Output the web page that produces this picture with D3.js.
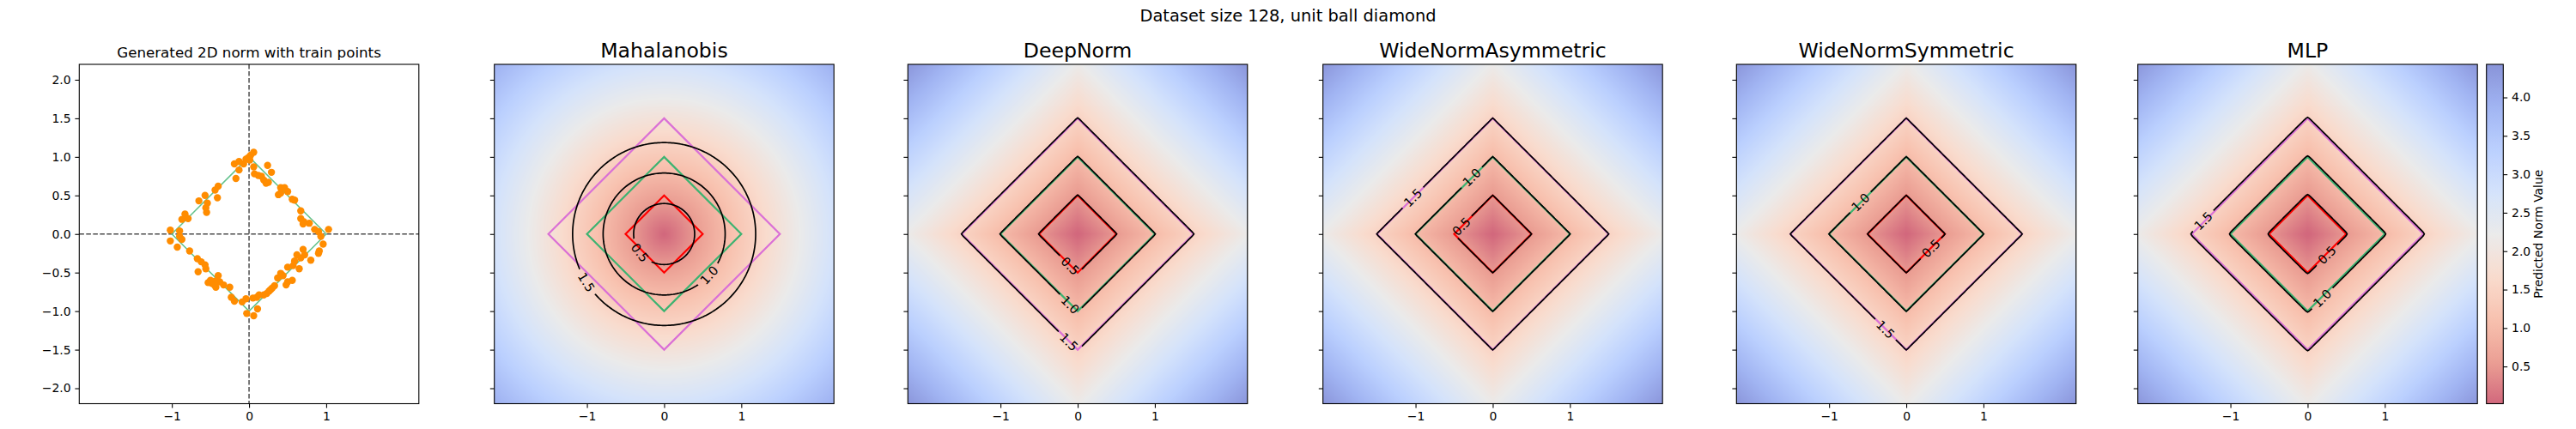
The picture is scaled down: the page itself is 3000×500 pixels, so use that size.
<!DOCTYPE html>
<html>
<head>
<meta charset="utf-8">
<script src="https://cdn.jsdelivr.net/npm/d3@7"></script>
<style>
  body { margin: 0; background: #fff; }
  svg { display: block; font-family: "DejaVu Sans", sans-serif; }
</style>
</head>
<body>
<div id="chart"></div>
<script>
// ── Data ─────────────────────────────────────────────────────────
const SUPTITLE = "Dataset size 128, unit ball diamond";
const TRAIN_TITLE = "Generated 2D norm with train points";
const MODELS = ["Mahalanobis", "DeepNorm", "WideNormAsymmetric", "WideNormSymmetric", "MLP"];
const CBAR_LABEL = "Predicted Norm Value";

const LEVELS = [0.5, 1.0, 1.5];
const LEVEL_COLORS = ["#ff0000", "#3cb371", "#da70d6"];
const UNIT_DIAMOND = [[1, 0], [0, 1], [-1, 0], [0, -1]];

const X_TICKS = [-1, 0, 1];
const Y_TICKS = [-2, -1.5, -1, -0.5, 0, 0.5, 1, 1.5, 2];
const CBAR_TICKS = [0.5, 1.0, 1.5, 2.0, 2.5, 3.0, 3.5, 4.0];
const CBAR_RANGE = [0.016, 4.43];

// train points
const TRAIN_X = [0.06, 0.02, -0.01, -0.04, 0.01, -0.07, -0.13, -0.19, -0.13, -0.17,
  0.06, 0.07, 0.12, 0.16, 0.19, 0.22, 0.25, 0.24, 0.29, 0.41, 0.46, 0.50, 0.41, 0.38, 0.56, 0.59, 0.67, 0.67, 0.71, 0.78, 0.70, 0.85, 0.90, 0.93, 1.03,
  0.96, 0.91, 0.90, 0.70, 0.62, 0.67, 0.72, 0.80, 0.59, 0.65, 0.57, 0.50, 0.41, 0.44, 0.37, 0.50, 0.56, 0.48, 0.33, 0.30, 0.26, 0.23, 0.19, 0.13, 0.10, 0.05, -0.04, -0.09, 0.11, 0.06, -0.03, 0.28,
  -0.19, -0.23, -0.25, -0.33, -0.38, -0.40, -0.44, -0.48, -0.43, -0.53, -0.56, -0.57, -0.62, -0.67, -0.66, -0.77, -0.87, -0.93, -0.50, -0.45,
  -1.02, -0.90, -1.02, -0.90,
  -0.83, -0.87, -0.79, -0.56, -0.55, -0.54, -0.57, -0.65, -0.41, -0.44, -0.40];
const TRAIN_Y = [1.06, 1.02, 0.99, 0.97, 0.96, 0.91, 0.94, 0.91, 0.83, 0.72,
  0.87, 0.78, 0.76, 0.75, 0.70, 0.66, 0.67, 0.89, 0.80, 0.60, 0.60, 0.55, 0.53, 0.51, 0.45, 0.44, 0.30, 0.20, 0.16, 0.14, 0.13, 0.06, 0.03, -0.03, 0.06,
  -0.13, -0.22, -0.25, -0.20, -0.27, -0.31, -0.27, -0.34, -0.35, -0.45, -0.41, -0.43, -0.51, -0.54, -0.57, -0.62, -0.60, -0.66, -0.67, -0.70, -0.74, -0.77, -0.79, -0.79, -0.82, -0.83, -0.84, -0.88, -0.97, -1.06, -1.03, -0.72,
  -0.87, -0.82, -0.69, -0.66, -0.62, -0.54, -0.61, -0.64, -0.69, -0.63, -0.45, -0.40, -0.36, -0.32, -0.49, -0.22, -0.07, -0.17, -0.60, -0.66,
  0.05, 0.04, -0.09, -0.03,
  0.26, 0.19, 0.20, 0.34, 0.28, 0.40, 0.50, 0.43, 0.47, 0.57, 0.62];

// predicted norm per model: Mahalanobis is a scaled euclidean norm,
// the learned ones are (slightly corner-rounded) L1 norms
const MAHAL_SCALE = 1.265;
const CORNER_ROUND = [0, 0.006, 0.003, 0.003, 0.012];

// contour label anchor points (data coords), one per level
const LABEL_POS = [
  [[-0.30, -0.23], [0.60, -0.55], [-1.00, -0.62]],
  [[-0.09, -0.38], [-0.09, -0.86], [-0.11, -1.36]],
  [[-0.41, 0.10], [-0.27, 0.73], [-1.03, 0.47]],
  [[0.31, -0.18], [-0.59, 0.41], [-0.26, -1.20]],
  [[0.23, -0.25], [0.18, -0.79], [-1.35, 0.17]]
];

// ── Layout ───────────────────────────────────────────────────────
const W = 3000, H = 500;
const AX_LEFT = [92.3, 575.7, 1057.3, 1540.7, 2022.3, 2489.7];
const AX_TOP = 75, AX_SIZE = 395.5, LIM = 2.2;
const CBAR = { x: 2895.7, w: 19.6 };
const TICK_FS = 13.9;
const ALPHA = 0.6;

const COOLWARM = ["#3b4cc0", "#6282ea", "#8db0fe", "#b8d0f9", "#dddddd", "#f5c4ad", "#f49a7b", "#de604d", "#b40426"];
const coolwarm = d3.piecewise(d3.interpolateRgb, COOLWARM);
const tScale = d3.scaleLinear().domain(CBAR_RANGE).range([1, 0]).clamp(true); // coolwarm_r

function normColor(v) {
    const c = d3.rgb(coolwarm(tScale(v)));
    return d3.rgb(c.r * ALPHA + 255 * (1 - ALPHA), c.g * ALPHA + 255 * (1 - ALPHA), c.b * ALPHA + 255 * (1 - ALPHA));
}

function predicted(m, x, y) {
    if (m === 0) return MAHAL_SCALE * Math.hypot(x, y);
    const s = CORNER_ROUND[m];
    return (Math.hypot(x, s) - s) + (Math.hypot(y, s) - s);
}

const svg = d3.select("#chart").append("svg")
    .attr("width", W).attr("height", H);
const defs = svg.append("defs");

const x = d3.scaleLinear().domain([-LIM, LIM]).range([0, AX_SIZE]);
const y = d3.scaleLinear().domain([-LIM, LIM]).range([AX_SIZE, 0]);

svg.append("text")
    .attr("x", 1500).attr("y", 25)
    .attr("text-anchor", "middle")
    .style("font-size", "19.4px")
    .text(SUPTITLE);

function drawAxes(g, k) {
    const xa = g.append("g")
        .attr("transform", `translate(0,${AX_SIZE})`)
        .call(d3.axisBottom(x).tickValues(X_TICKS).tickSize(4.9).tickPadding(4.9).tickFormat(d3.format("d")));
    const ya = g.append("g")
        .call(d3.axisLeft(y).tickValues(Y_TICKS).tickSize(4.9).tickPadding(4.9)
            .tickFormat(k === 0 ? d3.format(".1f") : () => ""));
    [xa, ya].forEach(a => {
        a.attr("font-family", null).attr("font-size", null).style("font-size", TICK_FS + "px");
        a.select(".domain").remove();
        a.selectAll("line").attr("stroke", "#000").attr("stroke-width", 1.1);
        a.selectAll("text").attr("fill", "#000");
    });
    g.append("rect")
        .attr("width", AX_SIZE).attr("height", AX_SIZE)
        .attr("fill", "none").attr("stroke", "#000").attr("stroke-width", 1.1);
}

// ── Panel 0: training points ─────────────────────────────────────
{
    const g = svg.append("g").attr("transform", `translate(${AX_LEFT[0]},${AX_TOP})`);
    g.append("text")
        .attr("x", AX_SIZE / 2).attr("y", -8.3)
        .attr("text-anchor", "middle")
        .style("font-size", "16.7px")
        .text(TRAIN_TITLE);

    const dash = "5.6,2.4";
    g.append("line").attr("x1", x(0)).attr("x2", x(0)).attr("y1", 0).attr("y2", AX_SIZE)
        .attr("stroke", "#4d4d4d").attr("stroke-width", 1.5).attr("stroke-dasharray", dash);
    g.append("line").attr("x1", 0).attr("x2", AX_SIZE).attr("y1", y(0)).attr("y2", y(0))
        .attr("stroke", "#4d4d4d").attr("stroke-width", 1.5).attr("stroke-dasharray", dash);

    g.append("path")
        .attr("d", d3.line().x(d => x(d[0])).y(d => y(d[1])).curve(d3.curveLinearClosed)(UNIT_DIAMOND))
        .attr("fill", "none").attr("stroke", "#63c28d").attr("stroke-width", 1.5);

    g.append("g").selectAll("circle")
        .data(TRAIN_X.map((v, i) => [v, TRAIN_Y[i]]))
        .join("circle")
        .attr("cx", d => x(d[0])).attr("cy", d => y(d[1]))
        .attr("r", 4.2).attr("fill", "#ff8c00");

    drawAxes(g, 0);
}

// ── Model panels ─────────────────────────────────────────────────
const N = 221;
const step = 2 * LIM / (N - 1);

MODELS.forEach(function (name, m) {
    const k = m + 1;
    const g = svg.append("g").attr("transform", `translate(${AX_LEFT[k]},${AX_TOP})`);

    defs.append("clipPath").attr("id", "clip" + k)
        .append("rect").attr("width", AX_SIZE).attr("height", AX_SIZE);

    // background field rendered pixel by pixel
    const px = Math.round(AX_SIZE);
    const canvas = document.createElement("canvas");
    canvas.width = px; canvas.height = px;
    const ctx = canvas.getContext("2d");
    const img = ctx.createImageData(px, px);
    for (let j = 0; j < px; j++) {
        for (let i = 0; i < px; i++) {
            const v = predicted(m, x.invert((i + 0.5) * AX_SIZE / px), y.invert((j + 0.5) * AX_SIZE / px));
            const c = normColor(v);
            const o = 4 * (j * px + i);
            img.data[o] = c.r; img.data[o + 1] = c.g; img.data[o + 2] = c.b; img.data[o + 3] = 255;
        }
    }
    ctx.putImageData(img, 0, 0);

    const body = g.append("g").attr("clip-path", `url(#clip${k})`);
    body.append("image")
        .attr("href", canvas.toDataURL())
        .attr("width", AX_SIZE).attr("height", AX_SIZE)
        .attr("preserveAspectRatio", "none");

    // true unit-ball diamonds
    LEVELS.forEach(function (lev, li) {
        body.append("path")
            .attr("d", d3.line().x(d => x(d[0] * lev)).y(d => y(d[1] * lev)).curve(d3.curveLinearClosed)(UNIT_DIAMOND))
            .attr("fill", "none").attr("stroke", LEVEL_COLORS[li]).attr("stroke-width", 2.2);
    });

    // label placement: snap to the level set, rotate along it
    const labels = LEVELS.map(function (lev, li) {
        let [lx, ly] = LABEL_POS[m][li];
        for (let it = 0; it < 5; it++) {
            const f = predicted(m, lx, ly);
            lx *= lev / f; ly *= lev / f;
        }
        const h = 1e-4;
        const gx = predicted(m, lx + h, ly) - predicted(m, lx - h, ly);
        const gy = predicted(m, lx, ly + h) - predicted(m, lx, ly - h);
        let a = Math.atan2(-gx, -gy) * 180 / Math.PI;
        if (a > 90) a -= 180;
        if (a < -90) a += 180;
        return { lev: lev, x: x(lx), y: y(ly), a: a };
    });

    const mask = defs.append("mask").attr("id", "mask" + k)
        .attr("maskUnits", "userSpaceOnUse")
        .attr("x", 0).attr("y", 0).attr("width", AX_SIZE).attr("height", AX_SIZE);
    mask.append("rect").attr("width", AX_SIZE).attr("height", AX_SIZE).attr("fill", "#fff");
    mask.selectAll("rect.gap").data(labels).join("rect")
        .attr("class", "gap")
        .attr("x", -17).attr("y", -7).attr("width", 34).attr("height", 14)
        .attr("transform", d => `translate(${d.x},${d.y}) rotate(${d.a})`)
        .attr("fill", "#000");

    // predicted-norm contours
    const grid = new Array(N * N);
    for (let j = 0; j < N; j++)
        for (let i = 0; i < N; i++)
            grid[j * N + i] = predicted(m, -LIM + i * step, LIM - j * step);
    const contours = d3.contours().size([N, N]).thresholds(LEVELS)(grid);
    const path = d3.geoPath(d3.geoTransform({
        point: function (gx, gy) {
            this.stream.point(x(-LIM + (gx - 0.5) * step), y(LIM - (gy - 0.5) * step));
        }
    }));
    body.append("g").attr("mask", `url(#mask${k})`)
        .selectAll("path").data(contours).join("path")
        .attr("d", path)
        .attr("fill", "none").attr("stroke", "#000").attr("stroke-width", 1.7);

    body.append("g").selectAll("text").data(labels).join("text")
        .attr("transform", d => `translate(${d.x},${d.y}) rotate(${d.a})`)
        .attr("text-anchor", "middle").attr("dy", "0.36em")
        .style("font-size", "14.5px")
        .text(d => d3.format(".1f")(d.lev));

    g.append("text")
        .attr("x", AX_SIZE / 2).attr("y", -8.3)
        .attr("text-anchor", "middle")
        .style("font-size", "23.6px")
        .text(name);

    drawAxes(g, k);
});

// ── Colorbar ─────────────────────────────────────────────────────
{
    const grad = defs.append("linearGradient").attr("id", "cbar")
        .attr("x1", 0).attr("y1", 1).attr("x2", 0).attr("y2", 0);
    d3.range(0, 1.0001, 0.02).forEach(function (t) {
        const v = CBAR_RANGE[0] + t * (CBAR_RANGE[1] - CBAR_RANGE[0]);
        grad.append("stop").attr("offset", t).attr("stop-color", normColor(v).formatHex());
    });
    const cy = d3.scaleLinear().domain(CBAR_RANGE).range([AX_SIZE, 0]);
    const g = svg.append("g").attr("transform", `translate(${CBAR.x},${AX_TOP})`);
    g.append("rect").attr("width", CBAR.w).attr("height", AX_SIZE).attr("fill", "url(#cbar)");
    const ax = g.append("g").attr("transform", `translate(${CBAR.w},0)`)
        .call(d3.axisRight(cy).tickValues(CBAR_TICKS).tickSize(4.9).tickPadding(4.9).tickFormat(d3.format(".1f")));
    ax.attr("font-family", null).attr("font-size", null).style("font-size", TICK_FS + "px");
    ax.select(".domain").remove();
    ax.selectAll("line").attr("stroke", "#000").attr("stroke-width", 1.1);
    ax.selectAll("text").attr("fill", "#000");
    g.append("rect").attr("width", CBAR.w).attr("height", AX_SIZE)
        .attr("fill", "none").attr("stroke", "#000").attr("stroke-width", 1.1);
    g.append("text")
        .attr("transform", `translate(${2961 - CBAR.x},${AX_SIZE / 2}) rotate(-90)`)
        .attr("text-anchor", "middle")
        .style("font-size", TICK_FS + "px")
        .text(CBAR_LABEL);
}
</script>
</body>
</html>
